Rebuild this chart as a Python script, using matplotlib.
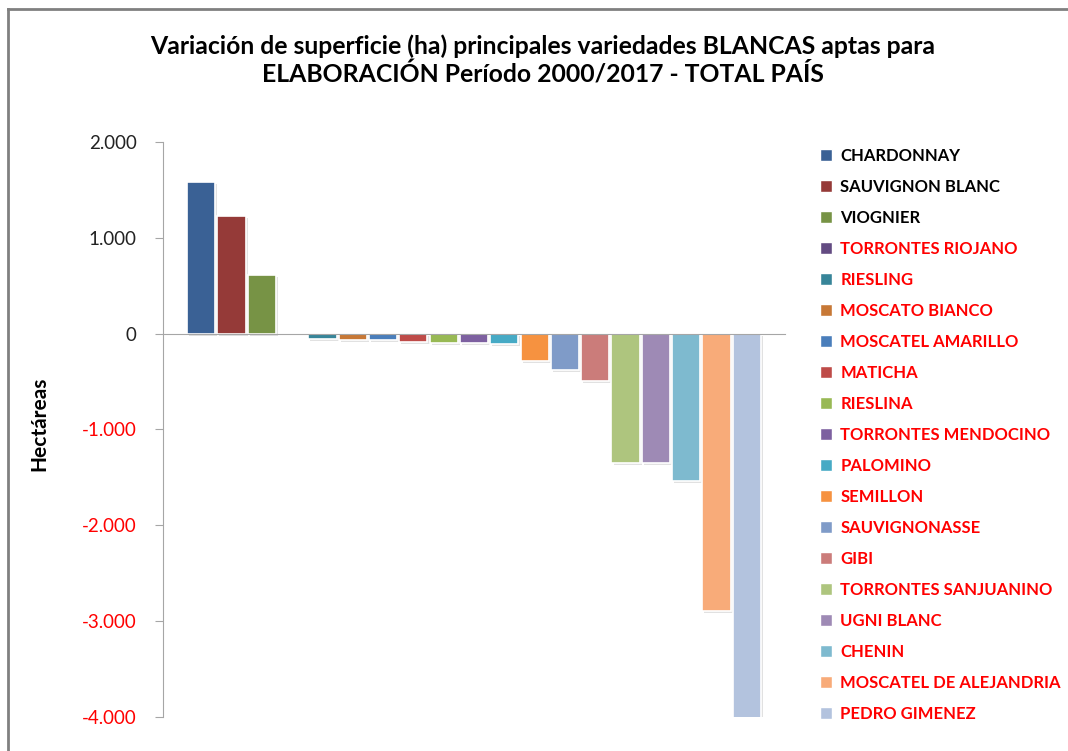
import matplotlib.pyplot as plt
import matplotlib.patheffects as pe
from matplotlib.lines import Line2D
from matplotlib.patches import Patch

plt.rcParams['font.family'] = ['Lato', 'DejaVu Sans']

varieties = ['CHARDONNAY', 'SAUVIGNON BLANC', 'VIOGNIER', 'TORRONTES RIOJANO', 'RIESLING',
             'MOSCATO BIANCO', 'MOSCATEL AMARILLO', 'MATICHA', 'RIESLINA', 'TORRONTES MENDOCINO',
             'PALOMINO', 'SEMILLON', 'SAUVIGNONASSE', 'GIBI', 'TORRONTES SANJUANINO',
             'UGNI BLANC', 'CHENIN', 'MOSCATEL DE ALEJANDRIA', 'PEDRO GIMENEZ']
variation = [1583, 1229, 615, -5, -60, -70, -70, -90, -95, -95,
             -110, -290, -375, -490, -1345, -1345, -1540, -2895, -4300]
colors = ['#3A6195', '#953A38', '#779345', '#634B82', '#378599', '#C77836', '#4A7EBB',
          '#BE4B48', '#98B954', '#7D60A0', '#46AAC5', '#F69240', '#7F9BC8', '#CB7C7A',
          '#AEC57E', '#9E8AB5', '#7EBACF', '#F8AB79', '#B3C3DE']
label_colors = ['black'] * 3 + ['#FF0000'] * 16

yticks = [2000, 1000, 0, -1000, -2000, -3000, -4000]
ytick_labels = ['2.000', '1.000', '0', '-1.000', '-2.000', '-3.000', '-4.000']

fig = plt.figure(figsize=(10.68, 7.51), dpi=100)
ax = fig.add_axes([0.1526, 0.0453, 0.735 - 0.1526, 0.811 - 0.0453])

x = list(range(len(varieties)))
bars = ax.bar(x, variation, width=0.93, color=colors, edgecolor='white', linewidth=1.2, zorder=3)
for b in bars:
    b.set_path_effects([pe.SimplePatchShadow(offset=(1.5, -1.5), shadow_rgbFace='#888888', alpha=0.25),
                        pe.Normal()])

ax.set_xlim(-1.26, len(varieties) - 1 + 1.26)
ax.set_ylim(-4000, 2000)
ax.set_yticks(yticks)
ax.set_yticklabels(ytick_labels, fontsize=13.5)
for t, v in zip(ax.get_yticklabels(), yticks):
    t.set_color('#FF0000' if v < 0 else '#222222')
ax.tick_params(axis='y', direction='out', length=6, color='#A6A6A6', pad=13)
ax.set_xticks([])

ax.spines['top'].set_visible(False)
ax.spines['right'].set_visible(False)
ax.spines['left'].set_color('#A6A6A6')
ax.spines['bottom'].set_position(('data', 0))
ax.spines['bottom'].set_color('#A6A6A6')
ax.spines['bottom'].set_zorder(4)

ax.set_ylabel('Hectáreas', fontsize=15, fontweight='bold')
ax.yaxis.set_label_coords(-0.182, 0.51)

fig.text(0.508, 0.954, 'Variación de superficie (ha) principales variedades BLANCAS aptas para\n'
         'ELABORACIÓN Período 2000/2017 - TOTAL PAÍS',
         ha='center', va='top', fontsize=17.8, fontweight='bold', linespacing=1.2)

handles = [Patch(facecolor=c, edgecolor='white') for c in colors]
leg = fig.legend(handles, varieties, loc='upper left', bbox_to_anchor=(0.762, 0.812),
                 frameon=False, fontsize=12, handlelength=0.7, handleheight=0.7,
                 handletextpad=0.5, labelspacing=0.9, borderaxespad=0)
for t, c in zip(leg.get_texts(), label_colors):
    t.set_color(c)
    t.set_fontweight('bold')

fig.add_artist(Line2D([0.0075, 0.0075], [0, 0.988], transform=fig.transFigure, color='#808080', lw=2))
fig.add_artist(Line2D([0.0075, 1], [0.988, 0.988], transform=fig.transFigure, color='#808080', lw=2))

fig.savefig('out.png', dpi=100)
